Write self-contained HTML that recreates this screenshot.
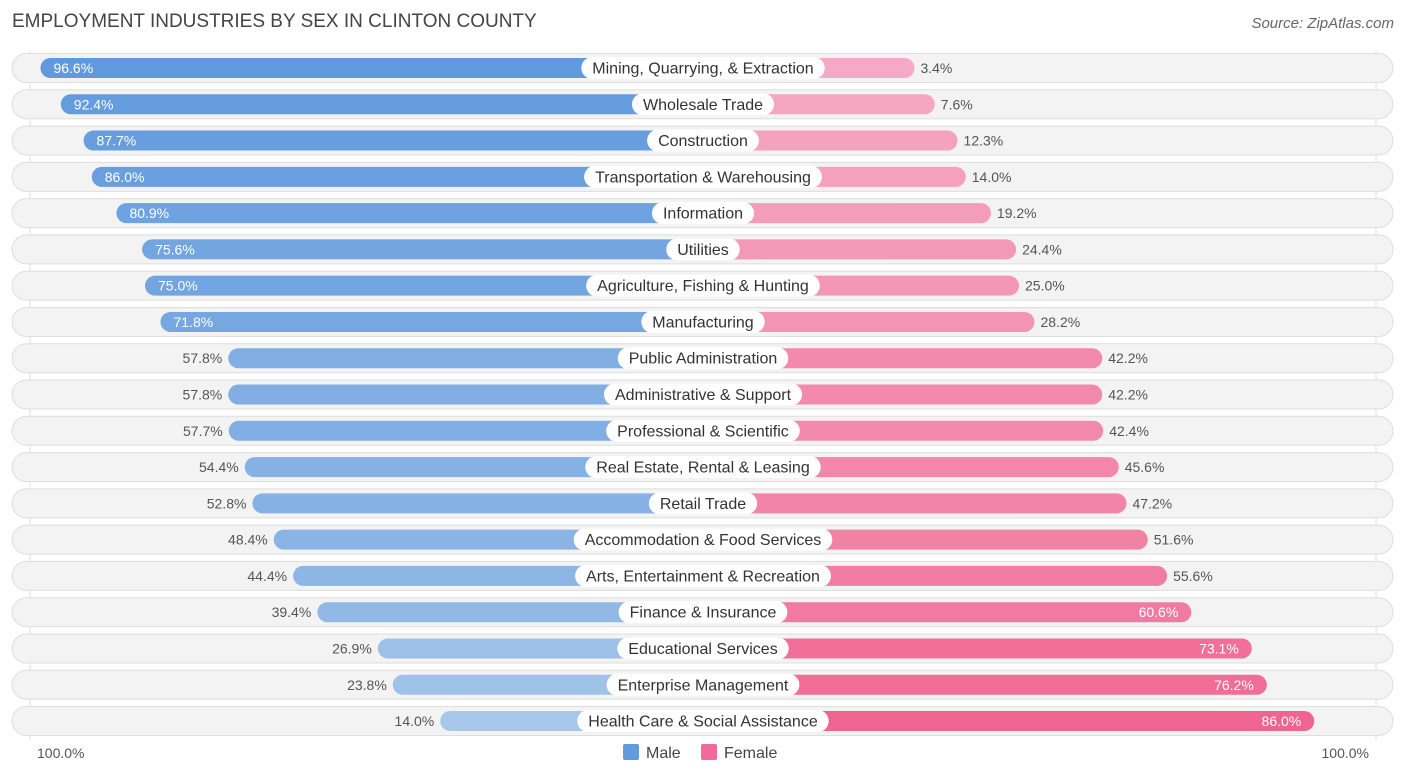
<!DOCTYPE html>
<html><head><meta charset="utf-8"><style>
body{margin:0;width:1406px;height:776px;background:#fff;font-family:"Liberation Sans",sans-serif;overflow:hidden;position:relative}
#title{position:absolute;left:12px;top:11px;font-size:19px;color:#444}
#source{position:absolute;right:12px;top:15px;font-size:15px;color:#666;font-style:italic}
svg{position:absolute;left:0;top:0}
</style></head><body>
<div id="title">EMPLOYMENT INDUSTRIES BY SEX IN CLINTON COUNTY</div>
<div id="source">Source: ZipAtlas.com</div>
<svg id="chart" width="1406" height="776"></svg>
<script>
const categories=["Mining, Quarrying, & Extraction","Wholesale Trade","Construction","Transportation & Warehousing","Information","Utilities","Agriculture, Fishing & Hunting","Manufacturing","Public Administration","Administrative & Support","Professional & Scientific","Real Estate, Rental & Leasing","Retail Trade","Accommodation & Food Services","Arts, Entertainment & Recreation","Finance & Insurance","Educational Services","Enterprise Management","Health Care & Social Assistance"];
const maleValues=[96.6,92.4,87.7,86.0,80.9,75.6,75.0,71.8,57.8,57.8,57.7,54.4,52.8,48.4,44.4,39.4,26.9,23.8,14.0];
const femaleValues=[3.4,7.6,12.3,14.0,19.2,24.4,25.0,28.2,42.2,42.2,42.4,45.6,47.2,51.6,55.6,60.6,73.1,76.2,86.0];
const axisLabels=["100.0%","100.0%"];
const NS="http://www.w3.org/2000/svg";
const svg=document.getElementById('chart');
const cx=703,y0=68,dy=36.28,off=195,sc=4.84;
function len(v){return off+v*sc;}
function rowY(i){return y0+i*dy;}
function mk(t,a,p){const e=document.createElementNS(NS,t);for(const k in a)e.setAttribute(k,a[k]);(p||svg).appendChild(e);return e;}
function mix(a,b,t){return 'rgb('+a.map((x,i)=>Math.round(x+(b[i]-x)*t)).join(',')+')';}
const grid=mk('line',{x1:30,x2:30,y1:50,y2:740,stroke:'#ddd'});

const grid2=mk('line',{x1:1376,x2:1376,y1:50,y2:740,stroke:'#ddd'});

categories.forEach((c,i)=>{
 const y=rowY(i);
 const g=mk('g',{});
 
 
 const bg=mk('rect',{x:12,y:y-14.5,width:1381,height:29,rx:14.5,fill:'#f3f3f3',stroke:'#dedede'},g);
 
 
 const m=maleValues[i],f=femaleValues[i];
 const ml=len(m),fl=len(f);
 const mb=mk('rect',{x:cx-ml,y:y-10,width:ml,height:20,rx:10,fill:mix([168,199,234],[96,153,221],(m-14)/83)},g);
 
 
 const fb=mk('rect',{x:cx,y:y-10,width:fl,height:20,rx:10,fill:mix([246,172,198],[240,100,145],f/86)},g);
 
 
 const mIn=m>=65, fIn=f>=60;
 const mt=mk('text',{x:mIn?cx-ml+13:cx-ml-6,y:y+5,'font-size':14,fill:mIn?'#fff':'#555','text-anchor':mIn?'start':'end'},g);
 mt.textContent=m.toFixed(1)+'%';
 
 
 const ft=mk('text',{x:fIn?cx+fl-13:cx+fl+6,y:y+5,'font-size':14,fill:fIn?'#fff':'#555','text-anchor':fIn?'end':'start'},g);
 ft.textContent=f.toFixed(1)+'%';
 
 
 const lt=mk('text',{x:cx,y:y+5.5,'font-size':16,fill:'#333','text-anchor':'middle'},g);
 lt.textContent=c;
 const w=lt.getComputedTextLength()+22;
 const lb=mk('rect',{x:cx-w/2,y:y-11,width:w,height:22,rx:11,fill:'#fff'},g);
 g.insertBefore(lb,lt);
 
 
 
 
});
const a1=mk('text',{x:37,y:758,'font-size':14,fill:'#555'});a1.textContent=axisLabels[0];

const a2=mk('text',{x:1369,y:758,'font-size':14,fill:'#555','text-anchor':'end'});a2.textContent=axisLabels[1];

const l1=mk('rect',{x:623,y:744,width:16,height:16,rx:2,fill:'#6399dd'});

const l1t=mk('text',{x:646,y:758,'font-size':16,fill:'#444'});l1t.textContent='Male';

const l2=mk('rect',{x:701,y:744,width:16,height:16,rx:2,fill:'#f06b97'});

const l2t=mk('text',{x:724,y:758,'font-size':16,fill:'#444'});l2t.textContent='Female';

</script>
</body></html>
